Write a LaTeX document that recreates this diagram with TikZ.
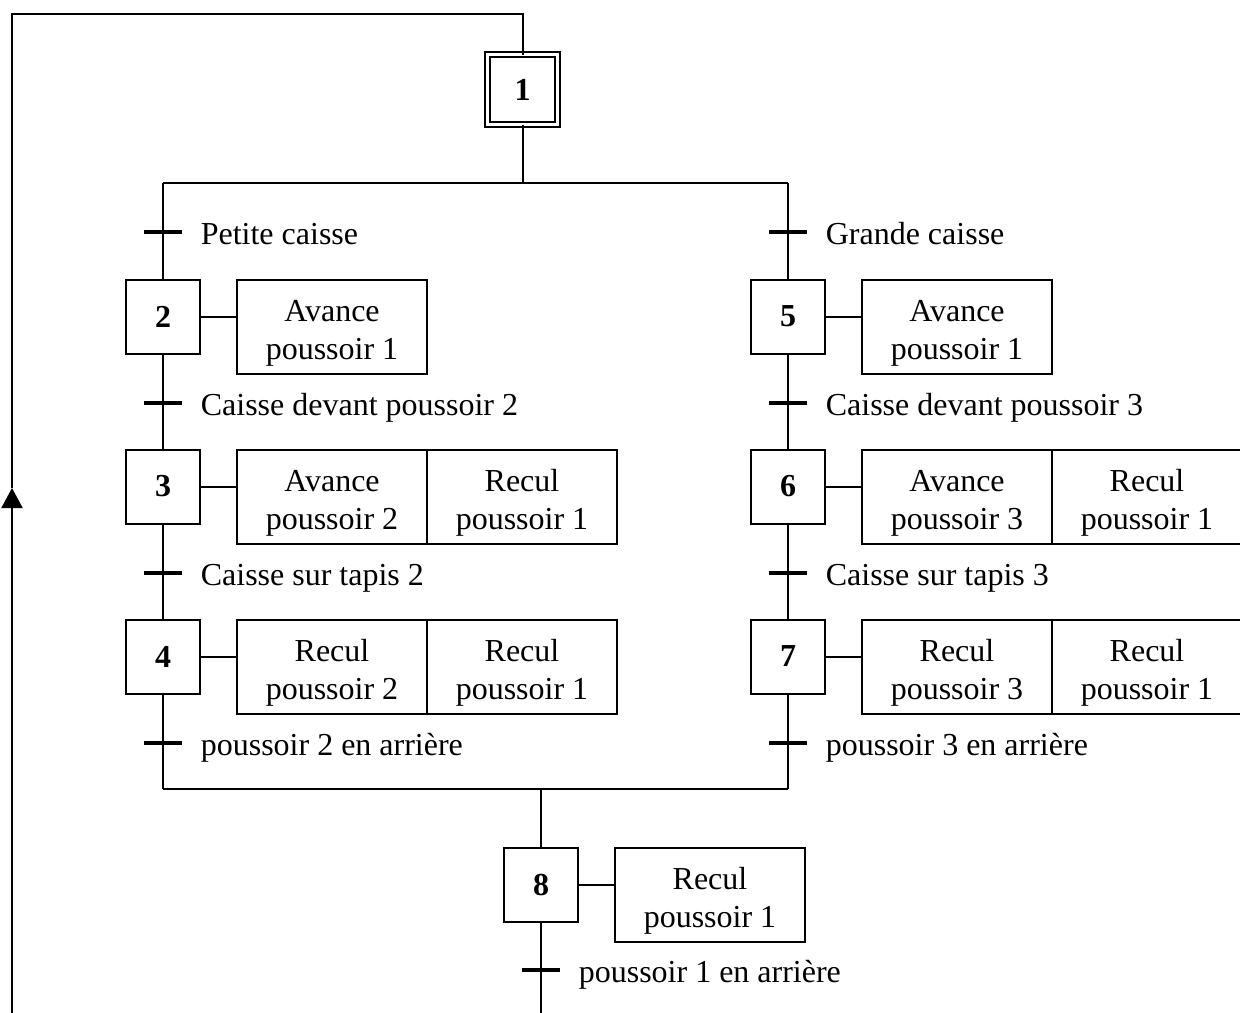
\documentclass[tikz,border=0pt]{standalone}
\usepackage{fontspec}
\setmainfont{Liberation Serif}
\usetikzlibrary{%
  arrows.meta,%
  positioning% wg. " of "
}
\newcommand{\act}[2]{\rule{0pt}{17pt}#1\\#2}

\begin{document}
\begin{tikzpicture}[x=0.5pt,y=-0.5pt]
       \tikzset{etape/.style={rectangle, draw, line width=1pt, minimum size=37pt,
                inner sep=0pt, outer sep=0pt, font=\fontsize{16}{19}\selectfont\bfseries}}
       \tikzset{init/.style={etape, double, line width=1.1pt, double distance=1.3pt, minimum size=35pt}}
       \tikzset{action/.style={rectangle, draw, line width=1pt, minimum width=95pt,
                minimum height=47pt, inner sep=0pt, outer sep=0pt, align=center,
                font=\fontsize{16}{19}\selectfont}}
       \tikzset{trans/.style={rectangle, fill, minimum width=19pt, minimum height=2.3pt, inner sep=0pt}}
       \tikzset{recept/.style={inner sep=0pt, text height=14pt, text depth=2pt,
                font=\fontsize{16}{19}\selectfont}}

        \useasboundingbox (0,0) rectangle (1240,1012);

        % etapes
        \node[init] (s1) at (522.5,89.5) {1};
        \node[etape] (s2) at (163,316.5) {2};
        \node[etape] (s3) at (163,486.5) {3};
        \node[etape] (s4) at (163,656.5) {4};
        \node[etape] (s5) at (788,316.5) {5};
        \node[etape] (s6) at (788,486.5) {6};
        \node[etape] (s7) at (788,656.5) {7};
        \node[etape] (s8) at (541,885) {8};

        % actions
        \node[action, right=18.5pt of s2.north east, anchor=north west] (a2) {\act{Avance}{poussoir 1}};
        \node[action, right=18.5pt of s3.north east, anchor=north west] (a3a) {\act{Avance}{poussoir 2}};
        \node[action, right=0pt of a3a] (a3b) {\act{Recul}{poussoir 1}};
        \node[action, right=18.5pt of s4.north east, anchor=north west] (a4a) {\act{Recul}{poussoir 2}};
        \node[action, right=0pt of a4a] (a4b) {\act{Recul}{poussoir 1}};
        \node[action, right=18.5pt of s5.north east, anchor=north west] (a5) {\act{Avance}{poussoir 1}};
        \node[action, right=18.5pt of s6.north east, anchor=north west] (a6a) {\act{Avance}{poussoir 3}};
        \node[action, right=0pt of a6a] (a6b) {\act{Recul}{poussoir 1}};
        \node[action, right=18.5pt of s7.north east, anchor=north west] (a7a) {\act{Recul}{poussoir 3}};
        \node[action, right=0pt of a7a] (a7b) {\act{Recul}{poussoir 1}};
        \node[action, right=18.5pt of s8.north east, anchor=north west] (a8) {\act{Recul}{poussoir 1}};

        % transitions
        \node[trans] (t1) at (163,232) {};
        \node[trans] (t2) at (163,403) {};
        \node[trans] (t3) at (163,573) {};
        \node[trans] (t4) at (163,743) {};
        \node[trans] (t5) at (788,232) {};
        \node[trans] (t6) at (788,403) {};
        \node[trans] (t7) at (788,573) {};
        \node[trans] (t8) at (788,743) {};
        \node[trans] (t9) at (541,970) {};

        \node[recept, right=9pt of t1] (r1) {Petite caisse};
        \node[recept, right=9pt of t2] (r2) {Caisse devant poussoir 2};
        \node[recept, right=9pt of t3] (r3) {Caisse sur tapis 2};
        \node[recept, right=9pt of t4] (r4) {poussoir 2 en arrière};
        \node[recept, right=9pt of t5] (r5) {Grande caisse};
        \node[recept, right=9pt of t6] (r6) {Caisse devant poussoir 3};
        \node[recept, right=9pt of t7] (r7) {Caisse sur tapis 3};
        \node[recept, right=9pt of t8] (r8) {poussoir 3 en arrière};
        \node[recept, right=9pt of t9] (r9) {poussoir 1 en arrière};

        \coordinate (div) at (522.5,183);
        \coordinate (divL) at (163,183);
        \coordinate (divR) at (788,183);
        \coordinate (conv) at (541,789);
        \coordinate (convL) at (163,789);
        \coordinate (convR) at (788,789);
        \coordinate (fin) at (541,1015);
        \coordinate (loopBL) at (12,1015);
        \coordinate (loopTip) at (12,488);
        \coordinate (loopTL) at (12,13.5);

        \begin{scope}[line width=1pt]
        \draw (s1) -- (div);
        \draw (divL) -- (divR);
        \draw (divL) -- (t1.center) -- (s2);
        \draw (s2) -- (t2.center) -- (s3);
        \draw (s3) -- (t3.center) -- (s4);
        \draw (s4) -- (t4.center) -- (convL);
        \draw (divR) -- (t5.center) -- (s5);
        \draw (s5) -- (t6.center) -- (s6);
        \draw (s6) -- (t7.center) -- (s7);
        \draw (s7) -- (t8.center) -- (convR);
        \draw (convL) -- (convR);
        \draw (conv) -- (s8);
        \draw (s8) -- (t9.center) -- (fin);

        \draw (s2.east) -- (s2.east -| a2.west);
        \draw (s3.east) -- (s3.east -| a3a.west);
        \draw (s4.east) -- (s4.east -| a4a.west);
        \draw (s5.east) -- (s5.east -| a5.west);
        \draw (s6.east) -- (s6.east -| a6a.west);
        \draw (s7.east) -- (s7.east -| a7a.west);
        \draw (s8.east) -- (s8.east -| a8.west);

        % retour vers l'etape initiale
        \draw[-{Triangle[width=10.5pt,length=10pt]}] (loopBL) -- (loopTip);
        \draw (loopTip) -- (loopTL) -| (s1.north);
        \end{scope}
\end{tikzpicture}
\end{document}
